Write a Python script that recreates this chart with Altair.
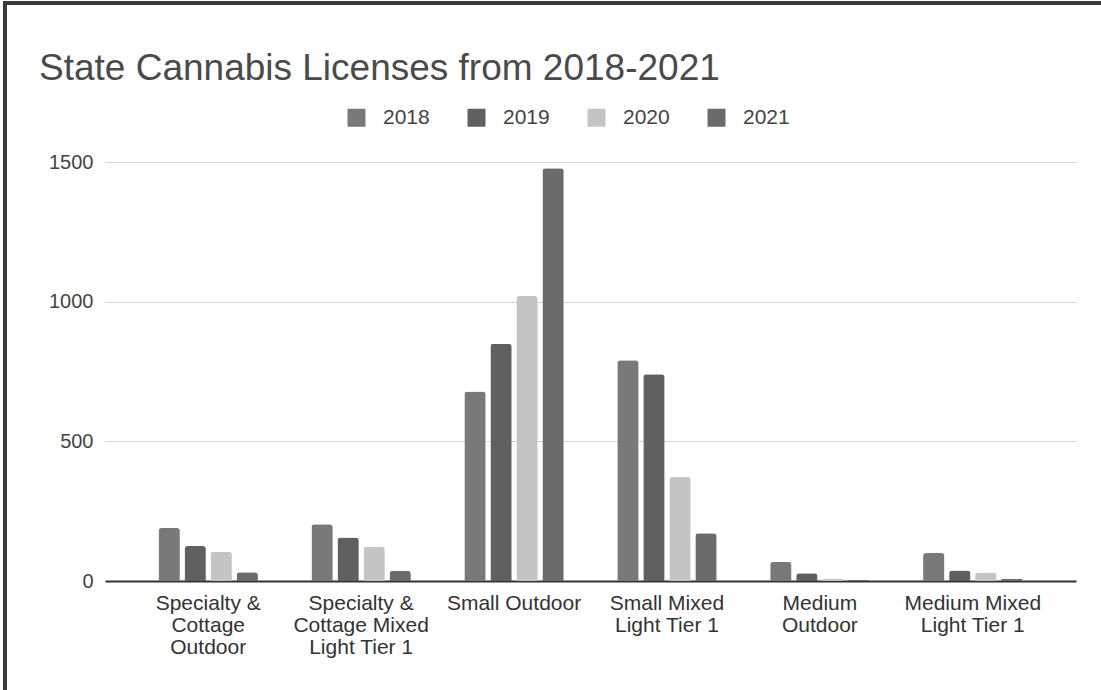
import altair as alt
import pandas as pd
import json

# ---- data ----
categories = [
    "Specialty & Cottage Outdoor",
    "Specialty & Cottage Mixed Light Tier 1",
    "Small Outdoor",
    "Small Mixed Light Tier 1",
    "Medium Outdoor",
    "Medium Mixed Light Tier 1",
]
label_lines = [
    ["Specialty &", "Cottage", "Outdoor"],
    ["Specialty &", "Cottage Mixed", "Light Tier 1"],
    ["Small Outdoor"],
    ["Small Mixed", "Light Tier 1"],
    ["Medium", "Outdoor"],
    ["Medium Mixed", "Light Tier 1"],
]
years = ["2018", "2019", "2020", "2021"]
v2018 = [190, 203, 678, 790, 69, 100]
v2019 = [125, 156, 849, 740, 28, 38]
v2020 = [105, 123, 1020, 372, 8, 30]
v2021 = [31, 36, 1478, 171, 4, 7]
y_ticks = [0, 500, 1000, 1500]

colors = ["#797979", "#606060", "#c4c4c4", "#6b6b6b"]

series = {"2018": v2018, "2019": v2019, "2020": v2020, "2021": v2021}
rows = []
for yr in years:
    for cat, val in zip(categories, series[yr]):
        rows.append({"category": cat, "year": yr, "value": val})
df = pd.DataFrame(rows)

mapping = {c: l for c, l in zip(categories, label_lines)}
label_expr = json.dumps(mapping) + "[datum.label]"

FONT = "Liberation Sans"

bars = alt.Chart(df).mark_bar(
    cornerRadiusTopLeft=3, cornerRadiusTopRight=3
).encode(
    x=alt.X(
        "category:N",
        sort=categories,
        title=None,
        scale=alt.Scale(paddingInner=0.35, paddingOuter=0.35),
        axis=alt.Axis(
            labelExpr=label_expr,
            labelAngle=0,
            labelFontSize=21,
            labelFont=FONT,
            labelColor="#333333",
            labelLineHeight=22,
            labelPadding=11,
            labelBaseline="top",
            ticks=False,
            domainColor="#333333",
            domainWidth=2,
            grid=False,
            labelLimit=400,
        ),
    ),
    xOffset=alt.XOffset(
        "year:N", sort=years, scale=alt.Scale(paddingInner=0.18, paddingOuter=0)
    ),
    y=alt.Y(
        "value:Q",
        title=None,
        scale=alt.Scale(domain=[0, 1500], nice=False),
        axis=alt.Axis(
            values=y_ticks,
            format="d",
            labelFontSize=20,
            labelFont=FONT,
            labelColor="#444444",
            labelPadding=12,
            ticks=False,
            domain=False,
            gridColor="#d4d4d4",
            gridWidth=1,
        ),
    ),
    color=alt.Color(
        "year:N",
        scale=alt.Scale(domain=years, range=colors),
        legend=alt.Legend(
            title=None,
            orient="none",
            direction="horizontal",
            legendX=241,
            legendY=-55,
            symbolType="square",
            symbolSize=324,
            symbolStrokeWidth=0,
            symbolOpacity=1,
            labelFontSize=21,
            labelFont=FONT,
            labelColor="#444444",
            labelOffset=16,
            columnPadding=36,
            padding=0,
        ),
    ),
)

frame_df = pd.DataFrame({"k": [0]})
left_edge = alt.Chart(frame_df).mark_rule(color="#3a3a3a", strokeWidth=4).encode(
    x=alt.value(-100), y=alt.value(-160), y2=alt.value(530)
)
top_edge = alt.Chart(frame_df).mark_rule(color="#3a3a3a", strokeWidth=4).encode(
    x=alt.value(-102), x2=alt.value(1000), y=alt.value(-159)
)

chart = alt.layer(bars, left_edge, top_edge).properties(
    width=971,
    height=419,
    background="white",
    padding={"left": 105, "top": 162, "right": 25, "bottom": 109},
    autosize=alt.AutoSizeParams(type="none"),
    title=alt.TitleParams(
        "State Cannabis Licenses from 2018-2021",
        anchor="start",
        frame="group",
        dx=-66,
        dy=88,
        offset=0,
        fontSize=37,
        font=FONT,
        fontWeight="normal",
        color="#4a4a4a",
    ),
).configure_view(strokeWidth=0)

chart.save("out.html", embed_options={"renderer": "svg", "actions": False})
